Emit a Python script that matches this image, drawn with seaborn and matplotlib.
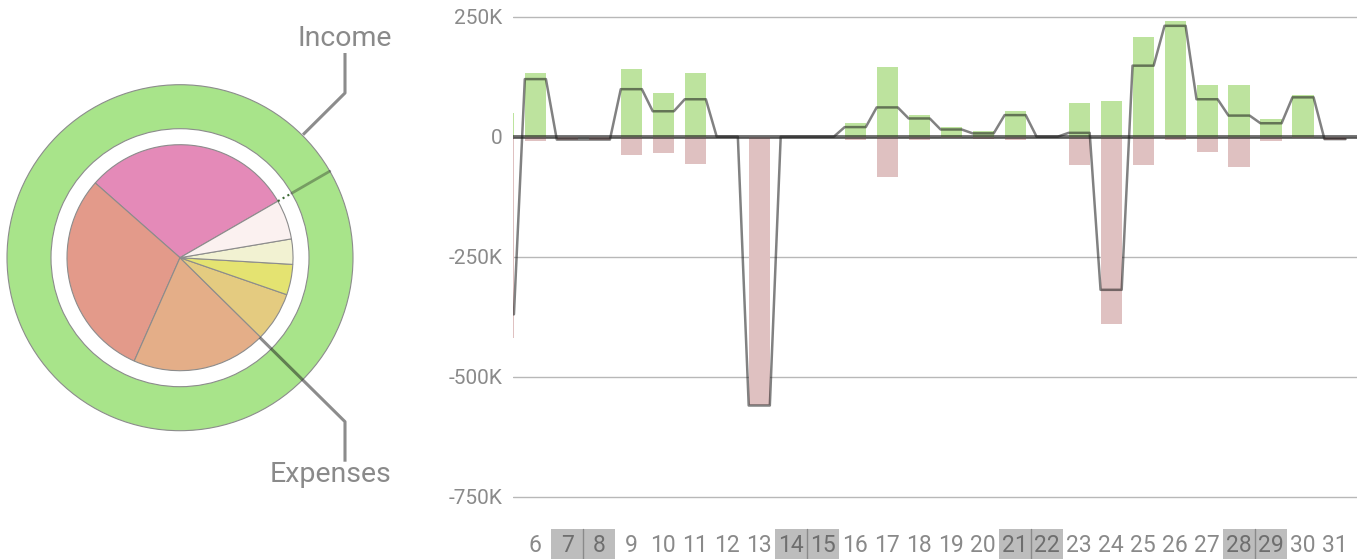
import numpy as np
import seaborn as sns
import matplotlib.pyplot as plt
from matplotlib.patches import Rectangle
from matplotlib.lines import Line2D
from matplotlib.transforms import blended_transform_factory

# daily totals in thousands, days 5..31 (day 5 is cut off at the left edge)
days = list(range(5, 32))
income = [50, 133, 0, 0, 141, 91, 133, 0, 0, 0, 0, 28, 146, 45, 20, 11, 54, 0,
          70, 75, 208, 241, 108, 108, 37, 87, 0]
expenses = [419, 10, 6, 6, 39, 35, 56, 0, 560, 0, 0, 6, 85, 6, 3, 5, 6, 0,
            60, 390, 60, 6, 31, 64, 10, 3, 6]
net = [-370, 120, -6, -6, 99, 53, 78, 0, -560, 0, 0, 20, 61, 38, 15, 7, 45, 0,
       8, -319, 148, 231, 78, 44, 28, 82, -5]
weekends = [7, 8, 14, 15, 21, 22, 28, 29]

y_ticks = [-750, -500, -250, 0, 250]
y_labels = ['-750K', '-500K', '-250K', '0', '250K']

# category shares (degrees), counterclockwise from 30 deg
expense_share = [108.6, 107.5, 69.3, 25.5, 15.7, 13.0, 20.4]
expense_colors = ['#e48ab8', '#e39a8a', '#e4ae88', '#e4cb80', '#e4e371', '#f2f2d2', '#fbf1f0']
income_share = [1]
income_colors = ['#a8e48a']

sns.set_theme(style='white')
plt.rcParams['font.family'] = ['Roboto', 'DejaVu Sans']

W, H = 1366, 559
fig = plt.figure(figsize=(W / 100, H / 100), dpi=100)

# ---------------- donut / pie on the left ----------------
axp = fig.add_axes([0, 0, 420 / W, 1])
cx, cy = 180, H - 257.7
axp.pie(income_share, colors=income_colors, radius=173, center=(cx, cy), startangle=30,
        wedgeprops=dict(width=44, edgecolor='#8c8c8c', linewidth=0.8))
axp.pie(expense_share, colors=expense_colors, radius=113, center=(cx, cy), startangle=30,
        counterclock=True, wedgeprops=dict(edgecolor='#8c8c8c', linewidth=0.8))

a30 = np.deg2rad(30)
axp.plot([cx + 129 * np.cos(a30), cx + 173 * np.cos(a30)],
         [cy + 129 * np.sin(a30), cy + 173 * np.sin(a30)], color='k', alpha=0.35, lw=2)
axp.plot([cx + 113 * np.cos(a30), cx + 129 * np.cos(a30)],
         [cy + 113 * np.sin(a30), cy + 129 * np.sin(a30)], color='#3d6b35', ls=':', lw=1.5)

a45 = np.deg2rad(45)
axp.plot([cx + 174 * np.cos(a45), 345, 345], [cy + 174 * np.sin(a45), H - 93, H - 53],
         color='k', alpha=0.5, lw=2.2, solid_capstyle='butt')
axp.plot([cx + 113 * np.cos(a45), 345, 345], [cy - 113 * np.sin(a45), H - 421.7, H - 461.7],
         color='k', alpha=0.5, lw=2.2, solid_capstyle='butt')
axp.text(345, H - 38, 'Income', ha='center', va='center', fontsize=20.5, color='#8a8a8a')
axp.text(331, H - 474, 'Expenses', ha='center', va='center', fontsize=20.5, color='#8a8a8a')
axp.set_xlim(0, 420)
axp.set_ylim(0, H)
axp.set_aspect('equal', adjustable='box')
axp.axis('off')

# ---------------- daily bars on the right ----------------
left, right, top, bottom = 513.3, 1357, 5, 515
ax = fig.add_axes([left / W, (H - bottom) / H, (right - left) / W, (bottom - top) / H])
kpp = 250 / 120.0  # thousands per pixel
zero_px = 136.7

bw = 0.66
sns.barplot(x=days, y=income, native_scale=True, width=bw, color='#bde39e',
            saturation=1, linewidth=0, errorbar=None, ax=ax, zorder=2)
sns.barplot(x=days, y=[-e for e in expenses], native_scale=True, width=bw, color='#dfc1c1',
            saturation=1, linewidth=0, errorbar=None, ax=ax, zorder=2)

xs, ys = [], []
for d, n in zip(days, net):
    xs += [d - bw / 2, d + bw / 2]
    ys += [n, n]
sns.lineplot(x=xs, y=ys, sort=False, estimator=None, color='k', alpha=0.55, lw=1.8,
             ax=ax, zorder=4)
ax.axhline(0, color='k', alpha=0.62, lw=2.8, zorder=3)

ax.set_xlim(5.31, 31 + (right - 1335) / 32)
ax.set_ylim((zero_px - bottom) * kpp, (zero_px - top) * kpp)
ax.set_yticks(y_ticks)
ax.set_yticklabels(y_labels)
ax.yaxis.grid(True, color='#b8b8b8', lw=1)
ax.set_axisbelow(True)
ax.set_xticks(days[1:])
ax.set_xticklabels([str(d) for d in days[1:]])
ax.tick_params(axis='y', length=0, pad=8, labelsize=15, labelcolor='#8a8a8a')
ax.tick_params(axis='x', length=0, pad=13.5, labelsize=16.5, labelcolor='#8a8a8a')
for lbl in ax.get_xticklabels():
    if int(lbl.get_text()) in weekends:
        lbl.set_color('#6e6e6e')
ax.set_xlabel('')
ax.set_ylabel('')
for s in ax.spines.values():
    s.set_visible(False)

# weekend label boxes
tr = blended_transform_factory(ax.transData, fig.transFigure)
for d in weekends:
    ax.add_patch(Rectangle((d - 0.5, 0), 1, 30 / H, transform=tr, facecolor='#bdbdbd',
                           edgecolor='none', clip_on=False, zorder=0.5))
for d in weekends[::2]:
    ax.add_line(Line2D([d + 0.5, d + 0.5], [0, 30 / H], transform=tr, color='#8a8a8a',
                       lw=1, clip_on=False, zorder=0.6))

fig.savefig('out.png', dpi=100)
